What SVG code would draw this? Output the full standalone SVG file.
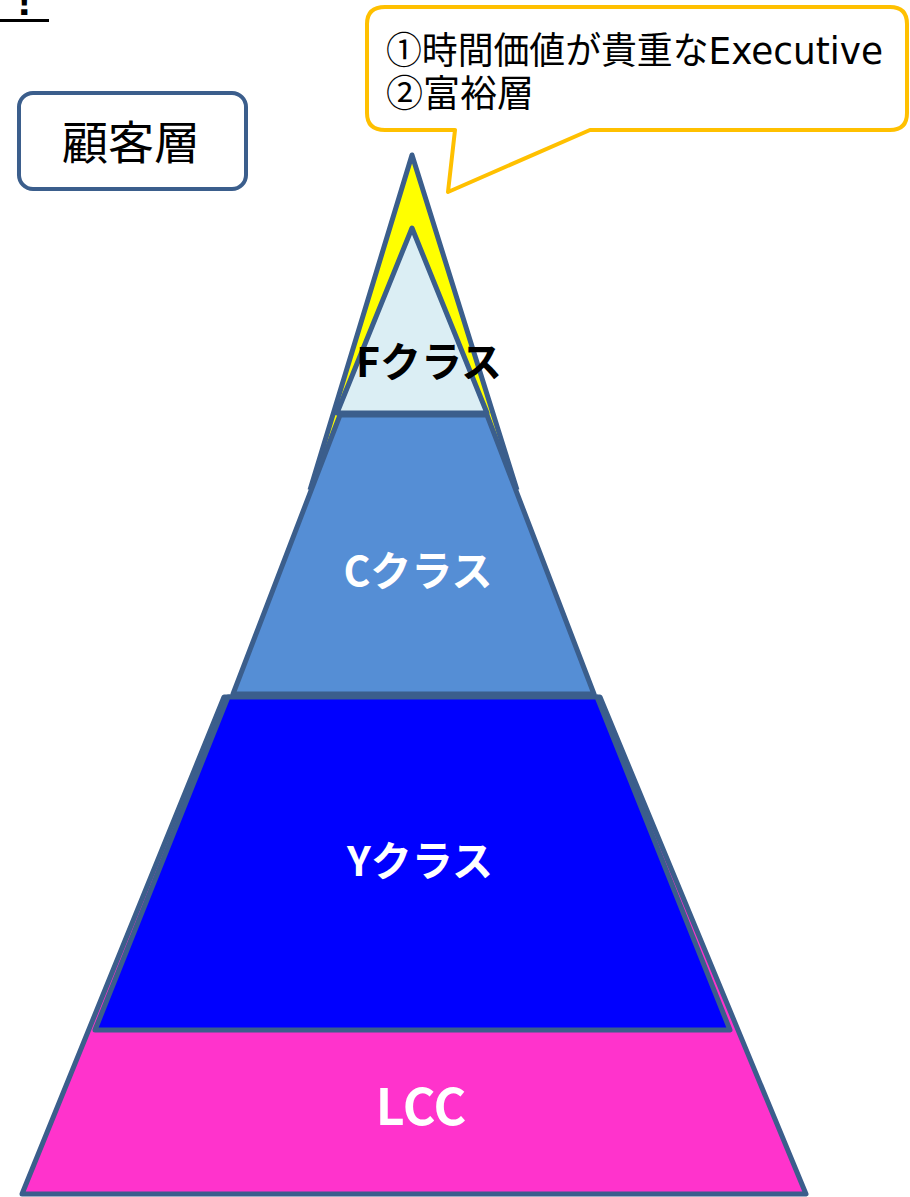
<svg xmlns="http://www.w3.org/2000/svg" width="910" height="1197" viewBox="0 0 910 1197">
  <style>
    .edge { stroke: #3B5E8C; stroke-width: 5; stroke-linejoin: round; }
    .jp { font-family: "Noto Sans CJK JP", "Liberation Sans", sans-serif; }
    .lbl { font-family: "Noto Sans CJK JP", "Liberation Sans", sans-serif; font-weight: bold; text-anchor: middle; }
  </style>
  <rect width="910" height="1197" fill="#FFFFFF"/>

  <g id="title-fragment">
    <text x="17" y="15" font-family="Liberation Sans, sans-serif" font-weight="bold" font-size="44" fill="#000000">!</text>
    <line x1="0" y1="20.5" x2="49" y2="20.5" stroke="#000000" stroke-width="3"/>
  </g>

  <g id="pyramid">
    <g id="lcc">
      <polygon class="edge" fill="#FF33CC" points="224,697 600,697 806,1194 22,1194"/>
      <text class="lbl" x="421" y="1125" font-size="50" fill="#FFFFFF">LCC</text>
    </g>
    <g id="peak">
      <polygon fill="#FFFF00" points="412,155 517,490 310,490"/>
      <polyline class="edge" fill="none" points="310,490 412,155 517,490"/>
    </g>
    <g id="c-class">
      <polygon class="edge" fill="#558ED5" points="340,415 487,415 594,694 233,694"/>
      <text class="lbl" x="418" y="586" font-size="41" fill="#FFFFFF">Cクラス</text>
    </g>
    <g id="y-class">
      <polygon class="edge" fill="#0000FF" points="228,697 597,697 730,1030 95,1030"/>
      <text class="lbl" x="420" y="876" font-size="41" fill="#FFFFFF">Yクラス</text>
    </g>
    <g id="f-class">
      <polygon class="edge" fill="#DBEEF4" points="412,228 487,413 337,413"/>
      <text class="lbl" x="429" y="377" font-size="41" fill="#000000">Fクラス</text>
    </g>
  </g>

  <g id="customer-label">
    <rect x="19" y="93" width="227" height="96" rx="14" ry="14" fill="#FFFFFF" stroke="#3B5E8C" stroke-width="4"/>
    <text class="jp" x="131" y="159" font-size="46" text-anchor="middle" fill="#000000">顧客層</text>
  </g>

  <g id="callout">
    <path d="M385,7 H890 Q907,7 907,24 V113 Q907,130 890,130 H590 L448,192 L455,130 H385 Q367,130 367,113 V24 Q367,7 385,7 Z" fill="#FFFFFF" stroke="#FFC000" stroke-width="4" stroke-linejoin="round"/>
    <text class="jp" x="386" y="64" font-size="37" fill="#000000" textLength="497" lengthAdjust="spacingAndGlyphs">①時間価値が貴重な<tspan font-family="DejaVu Sans, sans-serif">Executive</tspan></text>
    <text class="jp" x="386" y="107" font-size="37" fill="#000000">②富裕層</text>
  </g>

  <g id="connectors"/>
</svg>
